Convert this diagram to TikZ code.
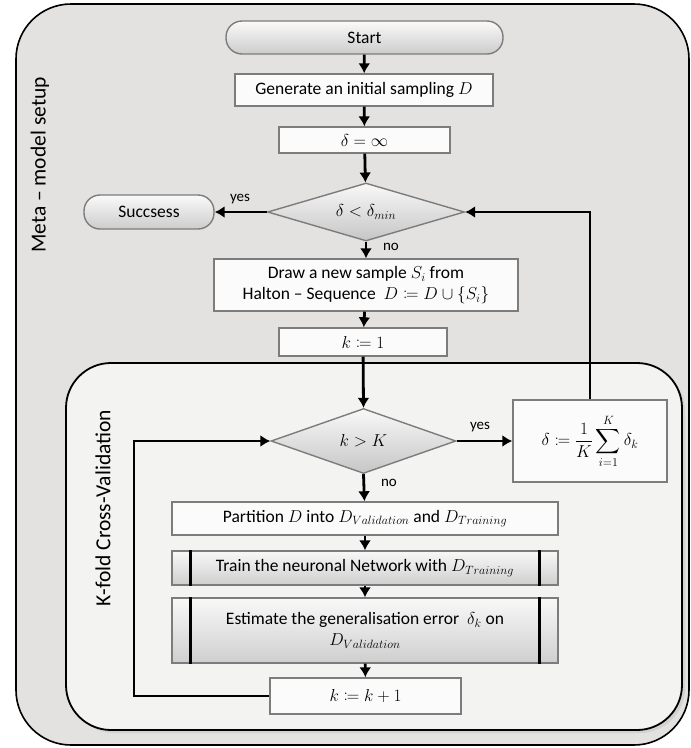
\documentclass[tikz,border=0pt]{standalone}
\usepackage{fontspec}
\setmainfont{Carlito}
\usepackage{mathtools}
\usetikzlibrary{arrows.meta,shapes.geometric}

\definecolor{setupgray}{HTML}{E4E2E0}
\definecolor{cvgray}{HTML}{F3F3F2}
\definecolor{framegray}{HTML}{7C7C7C}

\tikzset{
  flowbox/.style={draw=framegray,line width=1.4pt,fill=white!97!gray,inner sep=2pt,align=center},
  termbox/.style={draw=framegray,line width=1.4pt,rounded corners=16pt,top color=white!96!gray,bottom color=gray!40,inner sep=2pt},
  decide/.style={diamond,draw=framegray,line width=1.4pt,top color=white!95!gray,bottom color=gray!45,inner sep=0pt},
  procbox/.style={draw=framegray,line width=1.4pt,top color=white!95!gray,bottom color=gray!38,inner sep=2pt,align=center},
  sidelabel/.style={rotate=90,font=\fontsize{21.5}{25}\selectfont},
  answer/.style={font=\fontsize{15}{18}\selectfont}
}

\begin{document}
\begin{tikzpicture}[x=1pt,y=-1pt,line width=2.8pt,>={Latex[length=10pt,width=12pt]},font=\fontsize{17.5}{21}\selectfont]
\useasboundingbox (0,0) rectangle (691,748);

\draw[fill=setupgray,rounded corners=55pt,line width=1.6pt] (16,4) rectangle (689,745);
\fill[gray!35,rounded corners=45pt] (69,366) rectangle (685,733);
\draw[fill=cvgray,rounded corners=45pt,line width=1.8pt] (66,363) rectangle (682,730);

\node[sidelabel] (setuplbl) at (40,165) {Meta -- model setup};
\node[sidelabel] (cvlbl) at (103,508) {K-fold Cross-Validation};

\node[termbox,minimum width=277pt,minimum height=33pt] (start) at (364.5,37.5) {Start};
\node[flowbox,minimum width=258pt,minimum height=32pt] (init) at (364,90) {Generate an initial sampling $D$};
\node[flowbox,minimum width=171pt,minimum height=26pt] (delinf) at (364.5,140) {$\delta=\infty$};
\node[decide,aspect=3.4,minimum width=197pt,minimum height=58pt] (check) at (366,212) {$\delta<\delta_{min}$};
\node[termbox,minimum width=130pt,minimum height=34pt] (succ) at (149,212) {Succsess};
\node[flowbox,minimum width=304pt,minimum height=52pt] (draw) at (366,285) {Draw a new sample $S_i$ from\\Halton -- Sequence\ \ $D\coloneqq D\cup\{S_i\}$};
\node[flowbox,minimum width=168pt,minimum height=28pt] (kone) at (363,342) {$k\coloneqq 1$};
\node[decide,aspect=2.85,minimum width=185pt,minimum height=65pt] (kcheck) at (363.5,441) {$k>K$};
\node[flowbox,minimum width=154pt,minimum height=82pt] (avg) at (590,441) {$\displaystyle\delta\coloneqq\frac{1}{K}\sum_{i=1}^{K}\delta_k$};
\node[flowbox,minimum width=386pt,minimum height=33pt] (part) at (365,518.5) {Partition $D$ into $D_{Validation}$ and $D_{Training}$};
\node[procbox,minimum width=386pt,minimum height=34pt] (train) at (365,568) {Train the neuronal Network with $D_{Training}$};
\node[procbox,minimum width=386pt,minimum height=65pt] (est) at (365,630.5) {Estimate the generalisation error\ \ $\delta_k$ on\\$D_{Validation}$};
\node[flowbox,minimum width=191pt,minimum height=36pt] (kinc) at (365.5,696) {$k\coloneqq k+1$};

\draw[line width=3pt] ([xshift=19pt]train.north west) -- ([xshift=19pt]train.south west);
\draw[line width=3pt] ([xshift=-19pt]train.north east) -- ([xshift=-19pt]train.south east);
\draw[line width=3pt] ([xshift=19pt]est.north west) -- ([xshift=19pt]est.south west);
\draw[line width=3pt] ([xshift=-19pt]est.north east) -- ([xshift=-19pt]est.south east);

\draw[->] (start) -- (init);
\draw[->] (init) -- (delinf);
\draw[->] (delinf) -- (check);
\draw[->] (check.west) -- (succ.east);
\draw[->] (check.south) -- (draw);
\draw[->] (draw) -- (kone);
\draw[->] (kone) -- (kcheck.north);
\draw[->] (kcheck.east) -- (avg.west);
\draw[->] (kcheck.south) -- (part);
\draw[->] (part) -- (train);
\draw[->] (train) -- (est);
\draw[->] (est) -- (kinc);
\draw[->] (avg.north) |- (check.east);
\coordinate (loopcorner) at (134,696);
\draw[->] (kinc.west) -- (loopcorner) |- (kcheck.west);

\node[answer] (yes1) at (240,199) {yes};
\node[answer] (no1) at (391,247) {no};
\node[answer] (yes2) at (480,427) {yes};
\node[answer] (no2) at (389,483) {no};

\end{tikzpicture}
\end{document}
